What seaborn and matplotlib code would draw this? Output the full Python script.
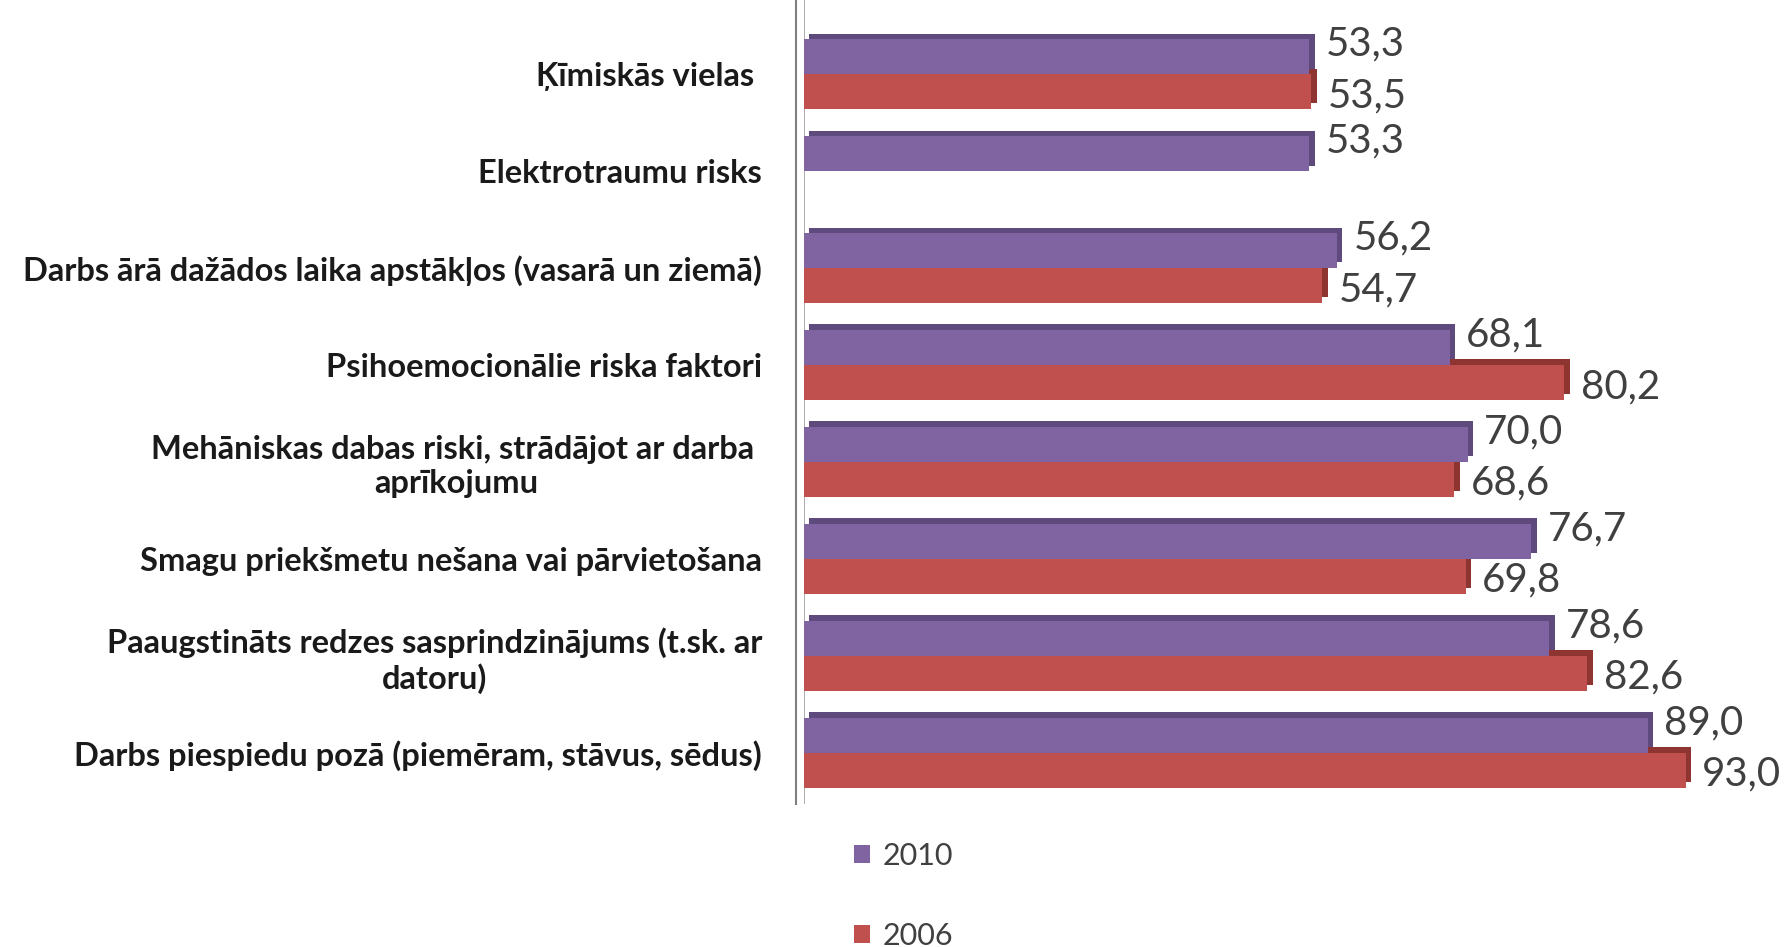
import pandas as pd
import matplotlib.pyplot as plt
import matplotlib.patheffects as pe
import seaborn as sns
import numpy as np

# risk factors, top to bottom as in the chart
categories = [
    'Ķīmiskās vielas ',
    'Elektrotraumu risks',
    'Darbs ārā dažādos laika apstākļos (vasarā un ziemā)',
    'Psihoemocionālie riska faktori',
    'Mehāniskas dabas riski, strādājot ar darba \naprīkojumu',
    'Smagu priekšmetu nešana vai pārvietošana',
    'Paaugstināts redzes sasprindzinājums (t.sk. ar\ndatoru)',
    'Darbs piespiedu pozā (piemēram, stāvus, sēdus)',
]
values_2010 = [53.3, 53.3, 56.2, 68.1, 70.0, 76.7, 78.6, 89.0]
values_2006 = [53.5, np.nan, 54.7, 80.2, 68.6, 69.8, 82.6, 93.0]
years = ['2010', '2006']

colors = {'2010': '#8064A2', '2006': '#C0504D'}
side_colors = {'2010': '#5E4A7C', '2006': '#8E3431'}

df = pd.DataFrame({
    'kategorija': categories * 2,
    'gads': ['2010'] * len(categories) + ['2006'] * len(categories),
    'vertiba': values_2010 + values_2006,
})

sns.set_style('white')
plt.rcParams['font.family'] = ['Lato', 'DejaVu Sans']

fig = plt.figure(figsize=(17.88, 9.47), dpi=100)
ax = fig.add_axes([0.4496, 0.151, 0.5504, 0.849])

sns.barplot(data=df, y='kategorija', x='vertiba', hue='gads', hue_order=years,
            palette=colors, orient='h', width=0.72, order=categories,
            saturation=1, linewidth=0, ax=ax)

# fake 3D depth with an up-right shadow; value labels from bar widths
for z, (yr, cont) in zip([3, 2], zip(years, ax.containers)):
    dy = 9 if yr == '2010' else -3
    for bar in cont:
        bar.set_zorder(z)
        bar.set_edgecolor('none')
        bar.set_path_effects([
            pe.SimplePatchShadow(offset=(4, 4), shadow_rgbFace=side_colors[yr], alpha=1),
            pe.Normal(),
        ])
        v = bar.get_width()
        if np.isnan(v) or v == 0:
            continue
        ax.annotate(f'{v:.1f}'.replace('.', ','),
                    xy=(v, bar.get_y() + bar.get_height() / 2),
                    xytext=(12, dy), textcoords='offset points',
                    va='center', ha='left', fontsize=29, color='#404040', zorder=5)

ax.set_xlim(0, 103.8)
ax.set_ylim(7.53, -0.765)
ax.set_xlabel('')
ax.set_ylabel('')
ax.set_xticks([])
for s in ['top', 'right', 'bottom']:
    ax.spines[s].set_visible(False)
ax.spines['left'].set_color('#808080')
ax.spines['left'].set_linewidth(1.5)
ax.spines['left'].set_position(('outward', 6))
ax.axvline(0, color='#a0a0a0', lw=1.2, zorder=1)

ax.tick_params(axis='y', length=0, pad=24)
for lbl in ax.get_yticklabels():
    lbl.set_fontsize(23.5)
    lbl.set_fontweight('bold')
    lbl.set_color('#1a1a1a')
    lbl.set_multialignment('center')

handles, labels = ax.get_legend_handles_labels()
ax.legend(handles, labels, loc='upper left', bbox_to_anchor=(0.462, 0.14),
          bbox_transform=fig.transFigure, frameon=False, fontsize=22,
          labelspacing=1.7, handlelength=0.55, handleheight=0.55, handletextpad=0.4,
          labelcolor='#404040')

plt.savefig('out.png', dpi=100)
